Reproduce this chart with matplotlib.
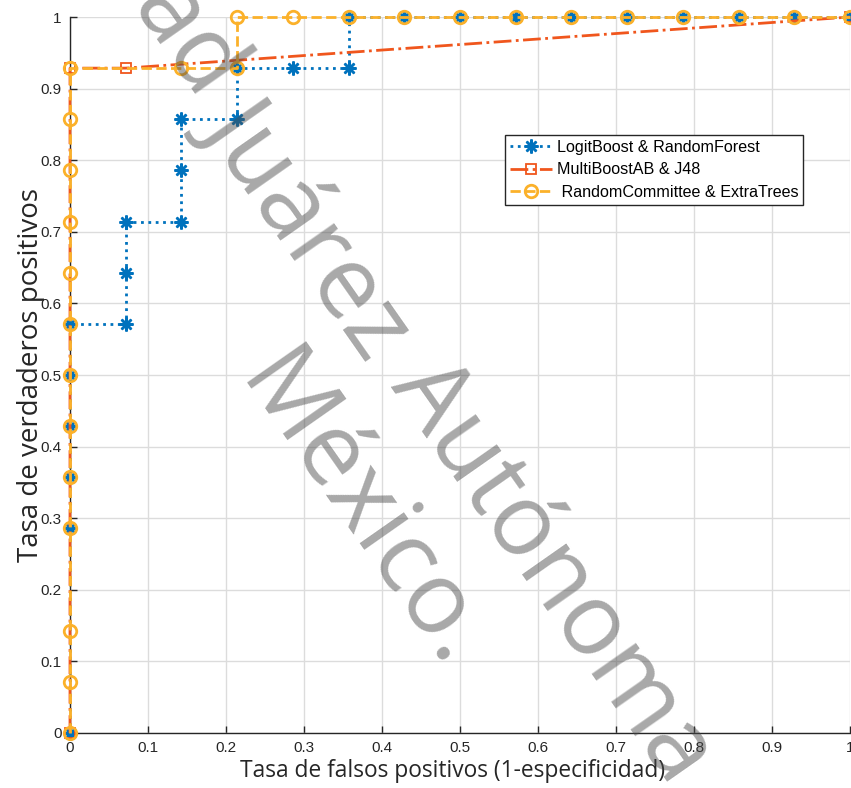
import numpy as np
import matplotlib
matplotlib.use("Agg")
import matplotlib.pyplot as plt

# ROC points (steps of 1/14)
logit_fpr = [0, 0, 0, 0, 0, 0, 1/14, 1/14, 1/14, 2/14, 2/14, 2/14, 3/14, 3/14,
             4/14, 5/14, 5/14, 6/14, 7/14, 8/14, 9/14, 10/14, 11/14, 12/14, 13/14, 1]
logit_tpr = [0, 4/14, 5/14, 6/14, 7/14, 8/14, 8/14, 9/14, 10/14, 10/14, 11/14, 12/14, 12/14, 13/14,
             13/14, 13/14, 1, 1, 1, 1, 1, 1, 1, 1, 1, 1]

multi_fpr = [0, 0, 1/14, 1]
multi_tpr = [0, 13/14, 13/14, 1]

rc_fpr = [0, 0, 0, 0, 0, 0, 0, 0, 0, 0, 0, 0, 0, 2/14, 3/14, 3/14,
          4/14, 5/14, 6/14, 7/14, 8/14, 9/14, 10/14, 11/14, 12/14, 13/14, 1]
rc_tpr = [0, 1/14, 2/14, 4/14, 5/14, 6/14, 7/14, 8/14, 9/14, 10/14, 11/14, 12/14, 13/14, 13/14, 13/14, 1,
          1, 1, 1, 1, 1, 1, 1, 1, 1, 1, 1]

labels = ["LogitBoost & RandomForest", "MultiBoostAB & J48", " RandomCommittee & ExtraTrees"]
ticks = np.round(np.arange(0, 1.01, 0.1), 1)
tick_labels = ["0", "0.1", "0.2", "0.3", "0.4", "0.5", "0.6", "0.7", "0.8", "0.9", "1"]

W, H = 851, 788
fig = plt.figure(figsize=(W / 100, H / 100), dpi=100)
ax = fig.add_axes([70 / W, 1 - 733 / H, 780 / W, 716 / H])

blue, red, yellow = "#0072BD", "#F0561D", "#FBB12A"
ax.plot(logit_fpr, logit_tpr, ":", color=blue, lw=2, marker=(8, 2, 0), ms=10,
        mec=blue, mew=1.8, label=labels[0], clip_on=False, zorder=3)
ax.plot(multi_fpr, multi_tpr, "-.", color=red, lw=2, marker="s", ms=6.5,
        mfc="none", mec=red, mew=1.3, label=labels[1], clip_on=False, zorder=4)
ax.plot(rc_fpr, rc_tpr, "--", color=yellow, lw=2, marker="o", ms=9,
        mfc="none", mec=yellow, mew=2, label=labels[2], clip_on=False, zorder=5)

ax.set_xlim(0, 1)
ax.set_ylim(0, 1)
ax.set_xticks(ticks)
ax.set_yticks(ticks)
ax.set_xticklabels(tick_labels, family="Liberation Sans", fontsize=11, color="#262626")
ax.set_yticklabels(tick_labels, family="Liberation Sans", fontsize=11, color="#262626")
ax.tick_params(direction="in", length=5, width=1, color="#262626", pad=6)
ax.grid(True, color="#dcdcdc", lw=1)
ax.set_axisbelow(True)
for s in ["top", "right"]:
    ax.spines[s].set_visible(False)
for s in ["left", "bottom"]:
    ax.spines[s].set_color("#262626")
    ax.spines[s].set_linewidth(1)

ax.set_xlabel("Tasa de falsos positivos (1-especificidad)", family="Open Sans",
              fontsize=16.4, color="#262626")
ax.xaxis.set_label_coords((453 - 70) / 780, (733 - 759) / 716)
ax.set_ylabel("Tasa de verdaderos positivos", family="Open Sans",
              fontsize=20, color="#262626")
ax.yaxis.set_label_coords((45 - 70) / 780, 0.5)

leg = ax.legend(loc="upper left", bbox_to_anchor=(505 / W, 1 - 135 / H),
                bbox_transform=fig.transFigure, borderaxespad=0, fancybox=False,
                edgecolor="#262626", framealpha=1, handlelength=2.6,
                prop={"family": "Liberation Sans", "size": 11.6}, labelspacing=0.47,
                handletextpad=0.3, borderpad=0.3)
leg.get_frame().set_linewidth(1)

# watermark
wm = dict(family="Open Sans", fontsize=72, color="#4a4a4a", alpha=0.48, rotation=-55,
          rotation_mode="anchor", va="baseline", zorder=10)
fig.text(195 / W, 1 - 108 / H, "Universidad", ha="right", **wm)
fig.text(371 / W, 1 - 359 / H, "Juárez", ha="right", **wm)
fig.text(390 / W, 1 - 386 / H, "Autónoma", ha="left", **wm)
fig.text(442 / W, 1 - 675 / H, "México.", ha="right", **wm)

fig.savefig("out.png", dpi=100)
